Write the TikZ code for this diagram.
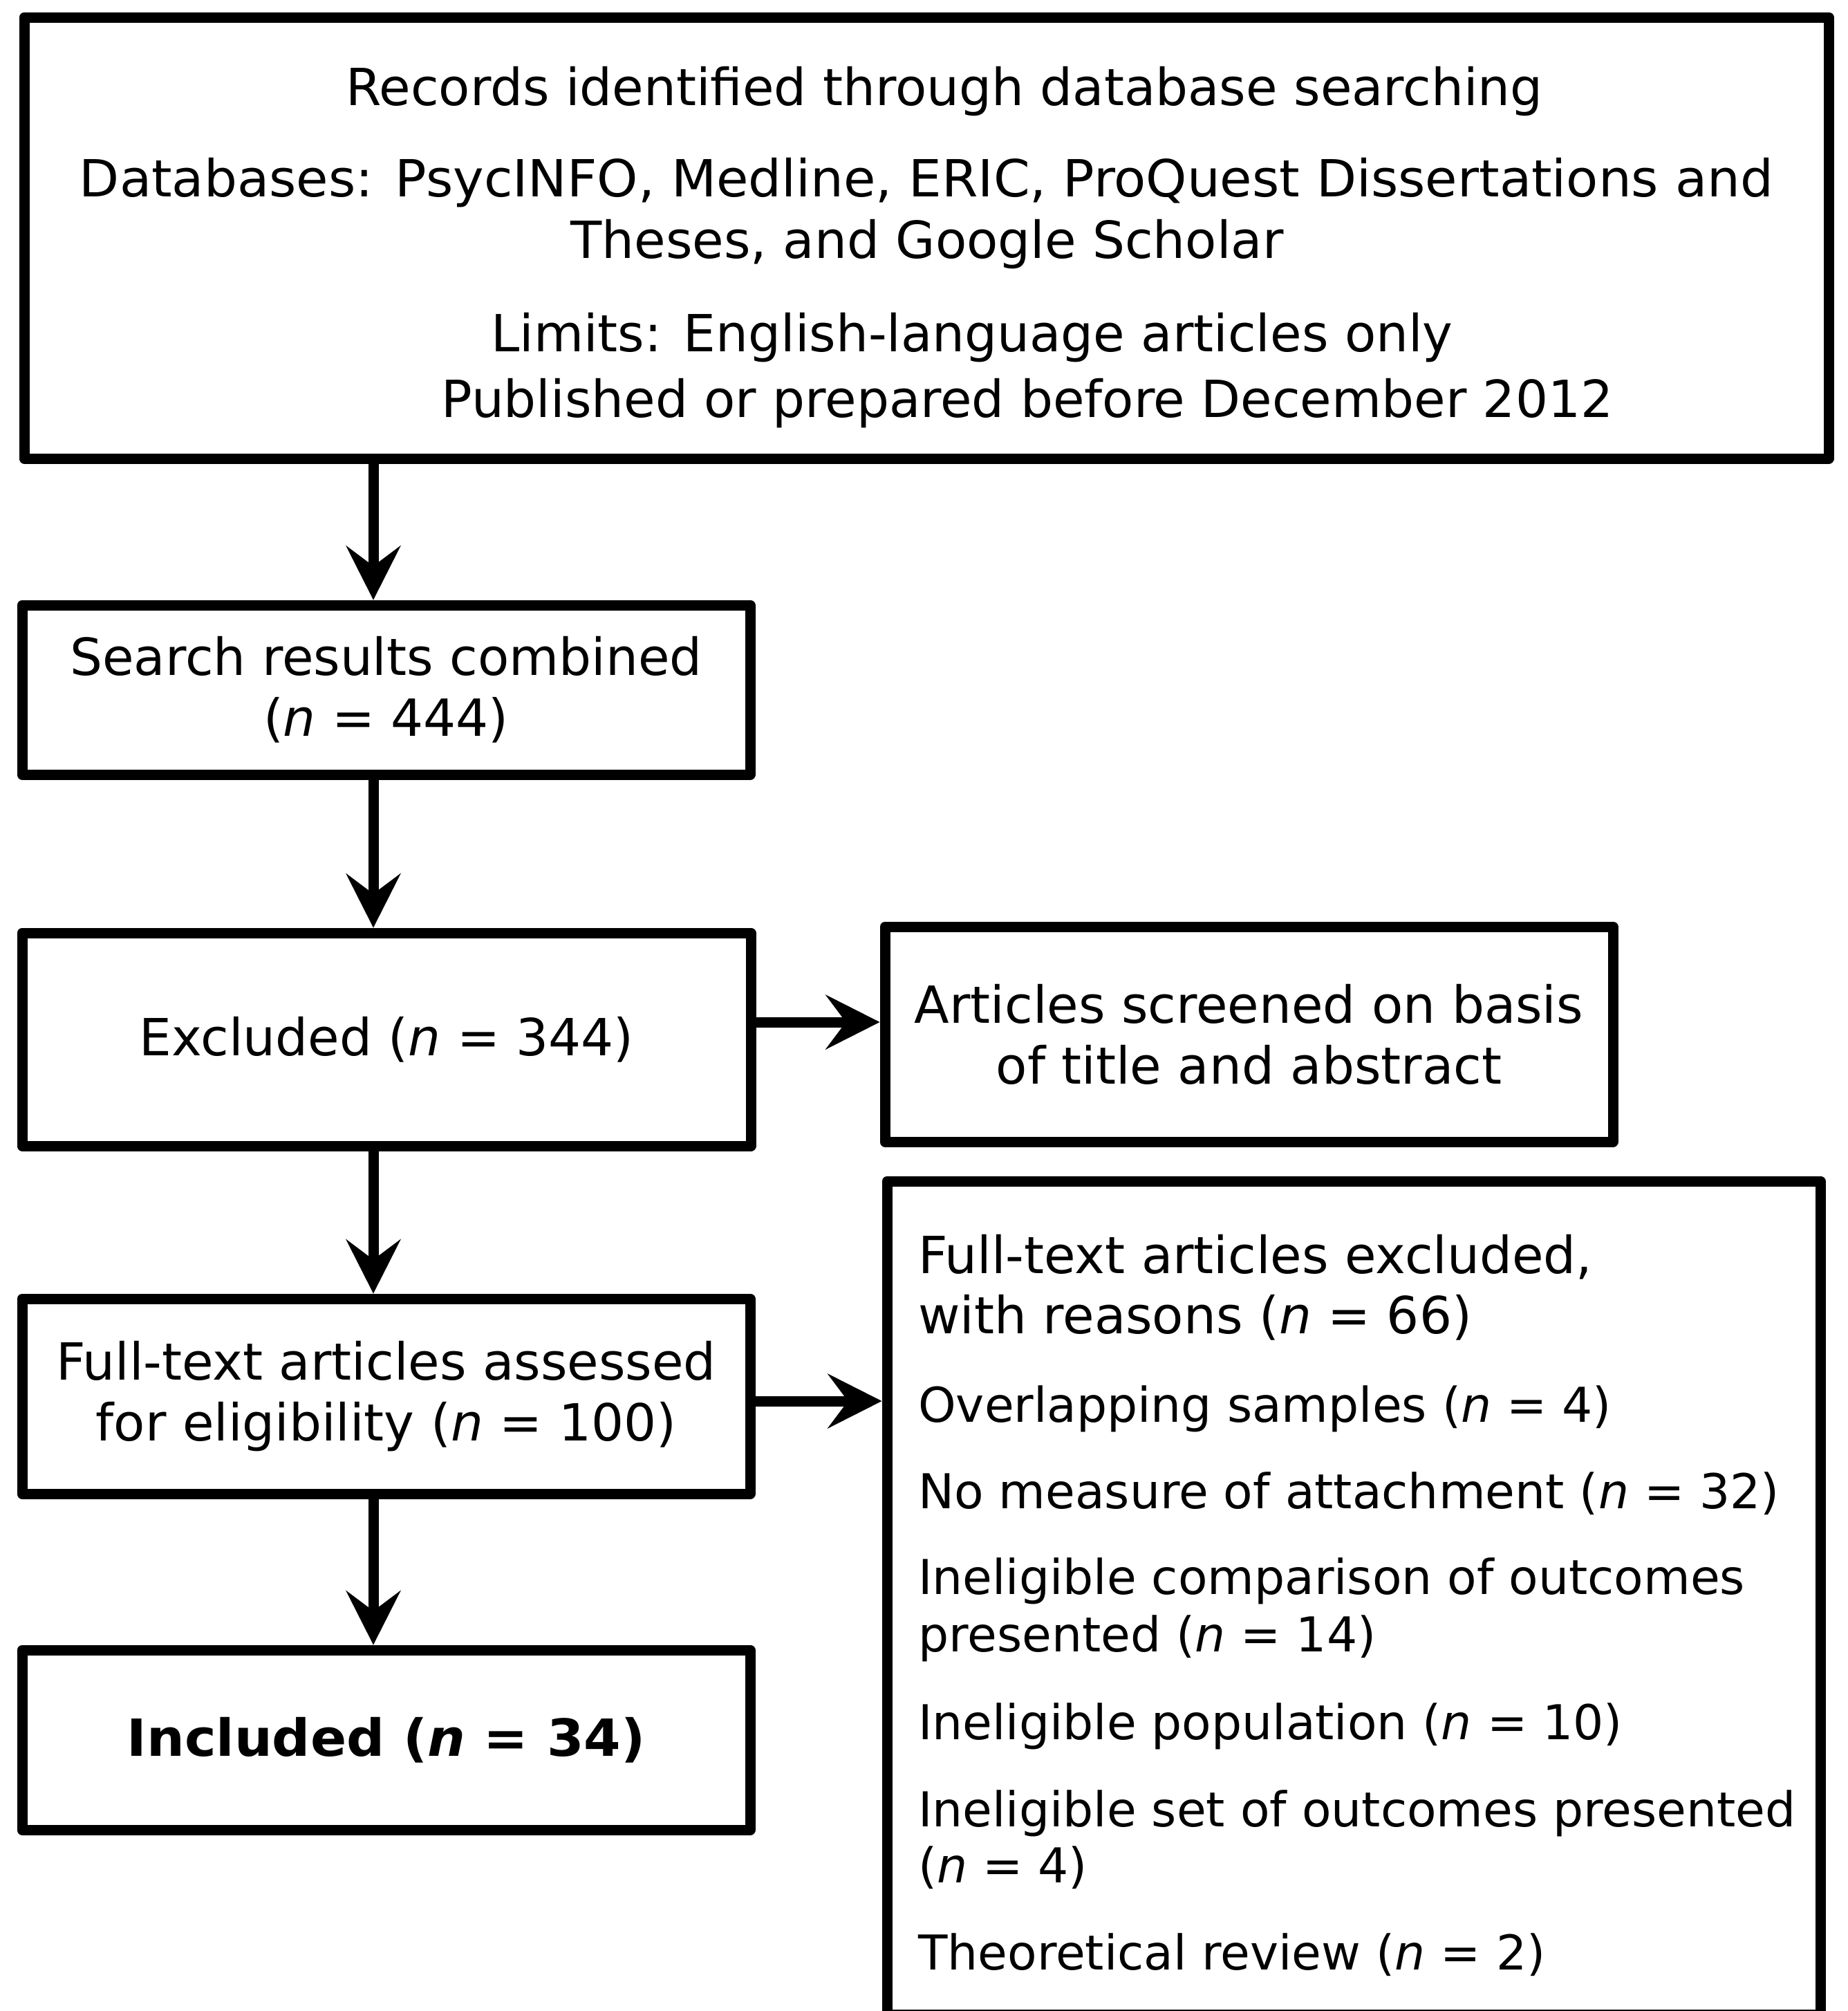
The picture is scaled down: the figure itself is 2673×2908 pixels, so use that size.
\documentclass[tikz,border=0pt]{standalone}
\usepackage{fontspec}
\setmainfont{DejaVu Sans}
\usetikzlibrary{arrows.meta}
\begin{document}
\begin{tikzpicture}[x=1pt,y=-1pt,
  txt/.style={inner sep=0pt, font=\fontsize{74}{88}\selectfont},
  rtxt/.style={inner sep=0pt, anchor=base west, font=\fontsize{69.5}{84}\selectfont},
  box/.style={draw, line width=15pt, line join=round, rectangle, align=center, inner sep=0pt, font=\fontsize{74}{88}\selectfont},
  arr/.style={line width=15pt, -{Stealth[length=79pt,width=80pt,inset=30pt,line width=0pt]}}]
\useasboundingbox (0,0) rectangle (2673,2908);
\fill[white] (0,0) rectangle (2673,2908);
% top box
\node[box, minimum width=2610pt, minimum height=638pt] (top) at (1340,344) {};
\node[txt, anchor=base] (t1) at (1366,152) {Records identified through database searching};
\node[txt, anchor=base] (t2) at (1340,284) {\addfontfeature{FakeStretch=1.02}Databases: PsycINFO, Medline, ERIC, ProQuest Dissertations and};
\node[txt, anchor=base] (t3) at (1341,373) {Theses, and Google Scholar};
\node[txt, anchor=base] (t4) at (1406,508) {Limits: English-language articles only};
\node[txt, anchor=base] (t5) at (1486,603) {Published or prepared before December 2012};
% left column
\node[box, minimum width=1053pt, minimum height=245pt] (b2) at (558.5,997.5) {Search results combined\\(\textit{n} = 444)};
\node[box, minimum width=1054pt, minimum height=308pt] (b3) at (559,1503) {Excluded (\textit{n} = 344)};
\node[box, minimum width=1053pt, minimum height=282pt] (b4) at (558.5,2019) {Full-text articles assessed\\for eligibility (\textit{n} = 100)};
\node[box, minimum width=1053pt, minimum height=260pt] (b5) at (558.5,2516) {\bfseries\addfontfeature{FakeStretch=1.04}Included (\textit{n} = 34)};
% right column
\node[box, minimum width=1053pt, minimum height=311pt] (art) at (1806.5,1495.5) {Articles screened on basis\\of title and abstract};
\node[box, minimum width=1350pt, minimum height=1205pt] (rx) at (1958,2310.5) {};
\node[txt, anchor=base west] (r1) at (1328,1841) {Full-text articles excluded,};
\node[txt, anchor=base west] (r2) at (1328,1928) {with reasons (\textit{n} = 66)};
\node[rtxt] (r3) at (1328,2056) {Overlapping samples (\textit{n} = 4)};
\node[rtxt] (r4) at (1328,2181) {No measure of attachment (\textit{n} = 32)};
\node[rtxt] (r5) at (1328,2305) {Ineligible comparison of outcomes};
\node[rtxt] (r6) at (1328,2388) {presented (\textit{n} = 14)};
\node[rtxt] (r7) at (1328,2515) {Ineligible population (\textit{n} = 10)};
\node[rtxt] (r8) at (1328,2641) {Ineligible set of outcomes presented};
\node[rtxt] (r9) at (1328,2722) {(\textit{n} = 4)};
\node[rtxt] (r10) at (1328,2848) {Theoretical review (\textit{n} = 2)};
% arrows
\coordinate (ax) at (540,0);
\draw[arr] (top.south -| ax) -- (b2.north -| ax);
\draw[arr] (b2.south -| ax) -- (b3.north -| ax);
\draw[arr] (b3.south -| ax) -- (b4.north -| ax);
\draw[arr] (b4.south -| ax) -- (b5.north -| ax);
\draw[arr] ([yshift=25pt]b3.east) -- ([yshift=25pt]b3.east -| art.west);
\draw[arr] ([yshift=-7pt]b4.east) -- ([yshift=-7pt]b4.east -| rx.west);
\end{tikzpicture}
\end{document}
